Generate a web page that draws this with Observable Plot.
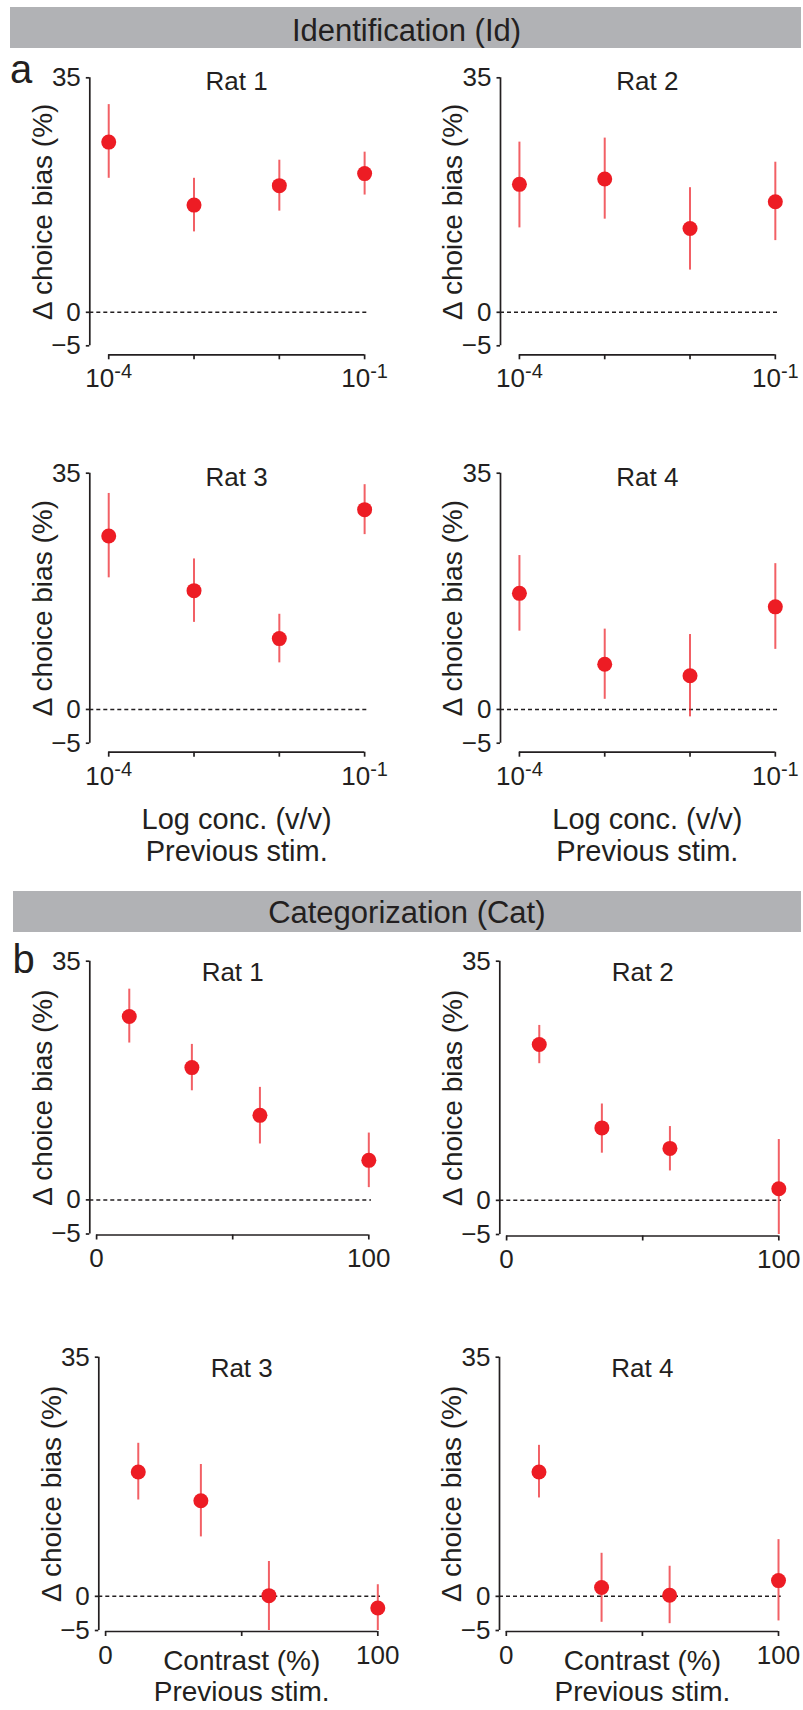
<!DOCTYPE html>
<html><head><meta charset="utf-8">
<script src="https://cdn.jsdelivr.net/npm/d3@7"></script>
<script src="https://cdn.jsdelivr.net/npm/@observablehq/plot@0.6"></script>
<style>
body{margin:0;background:#fff;}
#page{position:relative;width:803px;height:1710px;font-family:"Liberation Sans",Arial,sans-serif;color:#231f20;overflow:hidden;background:#fff}
.bar{position:absolute;background:#b1b2b5}
.htext{position:absolute;font-size:31px;line-height:31px;text-align:center;white-space:nowrap}
.letter{position:absolute;font-size:40px;line-height:40px}
.panel{position:absolute}
.panel svg{display:block;overflow:visible}
</style></head><body><div id="page"></div>
<script>
// ---------- text ----------
const sectionTitles = ["Identification (Id)", "Categorization (Cat)"];
const panelLetters = ["a", "b"];
const rats = ["Rat 1", "Rat 2", "Rat 3", "Rat 4"];
const yLabel = "Δ choice bias (%)";
const concLabel = "Log conc. (v/v)";
const contrastLabel = "Contrast (%)";
const previousLabel = "Previous stim.";

// ---------- x values & ticks ----------
const concentrations = [1e-4, 1e-3, 1e-2, 1e-1];
const contrasts = [12, 35, 60, 100];
const yTicks = [-5, 0, 35];
const concTicks = [1e-4, 1e-3, 1e-2, 1e-1];
const concTickLabels = ["10^-4", "", "", "10^-1"];
const contrastTicks = [0, 50, 100];
const contrastTickLabels = ["0", "", "100"];

// ---------- Identification (Id): mean, lower, upper ----------
const idRat1Mean = [25.4, 16.0, 18.9, 20.7];
const idRat1Low  = [20.0, 12.0, 15.1, 17.5];
const idRat1High = [31.0, 20.0, 22.7, 23.9];
const idRat2Mean = [19.1, 19.9, 12.5, 16.5];
const idRat2Low  = [12.6, 13.9, 6.3, 10.7];
const idRat2High = [25.4, 26.0, 18.6, 22.4];
const idRat3Mean = [25.7, 17.6, 10.5, 29.6];
const idRat3Low  = [19.5, 12.9, 6.9, 25.9];
const idRat3High = [32.0, 22.3, 14.1, 33.3];
const idRat4Mean = [17.2, 6.7, 5.0, 15.2];
const idRat4Low  = [11.6, 1.5, -1.1, 8.9];
const idRat4High = [22.8, 11.9, 11.1, 21.6];

// ---------- Categorization (Cat): mean, lower, upper ----------
const catRat1Mean = [26.9, 19.4, 12.4, 5.8];
const catRat1Low  = [23.0, 16.0, 8.2, 1.8];
const catRat1High = [30.9, 22.8, 16.5, 9.8];
const catRat2Mean = [22.8, 10.6, 7.6, 1.7];
const catRat2Low  = [20.0, 6.9, 4.3, -5.0];
const catRat2High = [25.6, 14.1, 10.8, 8.9];
const catRat3Mean = [18.2, 14.0, 0.1, -1.7];
const catRat3Low  = [14.1, 8.7, -5.0, -5.0];
const catRat3High = [22.4, 19.3, 5.1, 1.7];
const catRat4Mean = [18.2, 1.3, 0.15, 2.3];
const catRat4Low  = [14.4, -3.8, -4.0, -3.6];
const catRat4High = [22.1, 6.3, 4.4, 8.3];

// ---------- scales ----------
const yDomain = [-5, 35];
const concDomain = [6e-5, 0.112];
const contrastDomain = [-2.5, 101];

const idSeries = [
  [idRat1Mean, idRat1Low, idRat1High],
  [idRat2Mean, idRat2Low, idRat2High],
  [idRat3Mean, idRat3Low, idRat3High],
  [idRat4Mean, idRat4Low, idRat4High]
];
const catSeries = [
  [catRat1Mean, catRat1Low, catRat1High],
  [catRat2Mean, catRat2Low, catRat2High],
  [catRat3Mean, catRat3Low, catRat3High],
  [catRat4Mean, catRat4Low, catRat4High]
];

// ---------- layout (pixels) ----------
const FONT = '"Liberation Sans", Arial, sans-serif';
const INK = "#231f20";
const RED = "#ed1c24";
const layout = [
  {s:0, r:0, colLeft:0,   colWidth:400, axisX:89.3, top:55,   y35:77.3,   xAxisY:354.3, inset:9, bottom:400},
  {s:0, r:1, colLeft:400, colWidth:403, axisX:500,  top:55,   y35:77.3,   xAxisY:354.3, inset:9, bottom:400},
  {s:0, r:2, colLeft:0,   colWidth:400, axisX:89.3, top:440,  y35:472.7,  xAxisY:751.7, inset:9, bottom:875},
  {s:0, r:3, colLeft:400, colWidth:403, axisX:500,  top:440,  y35:472.7,  xAxisY:751.7, inset:9, bottom:875},
  {s:1, r:0, colLeft:0,   colWidth:400, axisX:89.3, top:940,  y35:960.7,  xAxisY:1234.5, inset:1, bottom:1290},
  {s:1, r:1, colLeft:400, colWidth:403, axisX:499.3,top:940,  y35:960.7,  xAxisY:1235.5, inset:1.5, bottom:1290},
  {s:1, r:2, colLeft:0,   colWidth:400, axisX:98.3, top:1330, y35:1356.7, xAxisY:1631, inset:1, bottom:1710},
  {s:1, r:3, colLeft:400, colWidth:403, axisX:499,  top:1330, y35:1356.7, xAxisY:1631, inset:1, bottom:1710}
];

const page = document.getElementById("page");
function addDiv(cls, style, text) {
  const d = document.createElement("div");
  d.className = cls;
  Object.assign(d.style, style);
  if (text != null) d.textContent = text;
  page.appendChild(d);
  return d;
}

// headers and panel letters
addDiv("bar", {left:"10px", top:"6.7px", width:"791px", height:"41.6px"});
addDiv("htext", {left:"10px", width:"793px", top:"14.5px"}, sectionTitles[0]);
addDiv("letter", {left:"10px", top:"49px"}, panelLetters[0]);
addDiv("bar", {left:"12.7px", top:"891px", width:"788.3px", height:"41px"});
addDiv("htext", {left:"12.7px", width:"788.3px", top:"897px"}, sectionTitles[1]);
addDiv("letter", {left:"12.5px", top:"938.5px"}, panelLetters[1]);

function superscriptLabels(svg) {
  svg.querySelectorAll("text").forEach(t => {
    const s = t.textContent;
    if (s.includes("^")) {
      const [base, sup] = s.split("^");
      t.textContent = "";
      const ns = "http://www.w3.org/2000/svg";
      const a = document.createElementNS(ns, "tspan");
      a.textContent = base;
      const b = document.createElementNS(ns, "tspan");
      b.textContent = sup;
      b.setAttribute("dy", "-9");
      b.setAttribute("font-size", "20");
      t.appendChild(a); t.appendChild(b);
    }
  });
}

for (const L of layout) {
  const isId = L.s === 0;
  const series = isId ? idSeries[L.r] : catSeries[L.r];
  const xs = isId ? concentrations : contrasts;
  const [mean, low, high] = series;
  const data = xs.map((x, i) => ({x, m: mean[i], lo: low[i], hi: high[i]}));
  const xDomain = isId ? concDomain : contrastDomain;
  const ticks = isId ? concTicks : contrastTicks;
  const tickLabels = isId ? concTickLabels : contrastTickLabels;
  const pxPerUnit = isId ? 85.3 : 2.722;
  const frameW = isId ? (Math.log10(xDomain[1]) - Math.log10(xDomain[0])) * pxPerUnit
                      : (xDomain[1] - xDomain[0]) * pxPerUnit;
  const width = L.colWidth;
  const height = L.bottom - L.top;
  const marginLeft = L.axisX - L.colLeft;
  const marginRight = width - marginLeft - frameW;
  const marginTop = L.y35 - L.top;
  const marginBottom = L.bottom - L.xAxisY;
  const xMid = isId ? Math.sqrt(ticks[0] * ticks[ticks.length - 1]) : (ticks[0] + ticks[ticks.length - 1]) / 2;
  const yMid = (yDomain[0] + yDomain[1]) / 2;
  const bottomRow = L.r >= 2;

  const marks = [
    Plot.ruleY([0], {stroke: INK, strokeWidth: 1.5, strokeDasharray: "4,3"}),
    Plot.ruleX([xDomain[0]], {y1: yDomain[0], y2: yDomain[1], stroke: INK, strokeWidth: 1.7}),
    Plot.ruleY([yDomain[0]], {x1: ticks[0], x2: ticks[ticks.length - 1], dy: L.inset, stroke: INK, strokeWidth: 1.7}),
    Plot.axisY({ticks: yTicks, tickSize: 3.5, tickPadding: 5.5, fontSize: 26, label: null, strokeWidth: 1.7, tickFormat: d => d < 0 ? "\u2212" + Math.abs(d) : String(d)}),
    Plot.axisX({ticks: ticks, tickSize: 5, tickPadding: 9, fontSize: 26, label: null, strokeWidth: 1.7,
      tickFormat: d => tickLabels[ticks.indexOf(d)] ?? ""}),
    Plot.ruleX(data, {x: "x", y1: "lo", y2: "hi", stroke: RED, strokeOpacity: 0.7, strokeWidth: 2}),
    Plot.dot(data, {x: "x", y: "m", r: 7.5, fill: RED, stroke: "none"}),
    Plot.text([rats[L.r]], {x: () => xMid, frameAnchor: "top", textAnchor: "middle", lineAnchor: "top", dy: isId ? -6 : 1, fontSize: 26, fill: INK}),
    Plot.text([yLabel], {y: () => yMid, frameAnchor: "left", textAnchor: "middle", lineAnchor: "middle", rotate: -90, dx: -47, fontSize: 28, fill: INK})
  ];
  if (bottomRow) {
    marks.push(Plot.text([(isId ? concLabel : contrastLabel) + "\n" + previousLabel], {
      x: () => xMid, frameAnchor: "bottom", textAnchor: "middle", lineAnchor: "top",
      dy: isId ? 53.3 : 16, lineHeight: 1.12, fontSize: isId ? 29 : 28, fill: INK
    }));
  }

  const svg = Plot.plot({
    width, height, marginLeft, marginRight, marginTop, marginBottom,
    insetBottom: L.inset,
    x: {type: isId ? "log" : "linear", domain: xDomain},
    y: {domain: yDomain},
    style: {fontFamily: FONT, color: INK, background: "transparent", overflow: "visible"},
    marks
  });
  superscriptLabels(svg);
  const holder = addDiv("panel", {left: L.colLeft + "px", top: L.top + "px", width: width + "px", height: height + "px"});
  holder.appendChild(svg);
}
</script>
</body></html>
